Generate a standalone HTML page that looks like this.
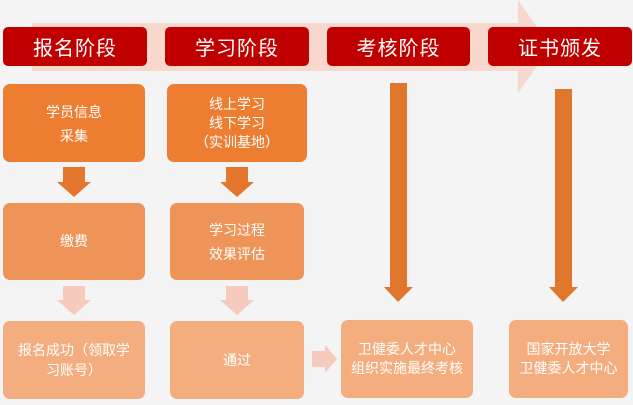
<!DOCTYPE html>
<html><head><meta charset="utf-8"><style>
body{margin:0;width:633px;height:405px;background:#f4f4f4;position:relative;overflow:hidden;font-family:"Liberation Sans","Noto Sans CJK SC",sans-serif}
.r{position:absolute;top:27px;height:39px;background:#c00000;border-radius:5px;color:#fff;font-size:20px;display:flex;align-items:center;justify-content:center;letter-spacing:1px}
.b{position:absolute;border-radius:7px;color:#fff;font-size:14px;display:flex;align-items:center;justify-content:center;text-align:center;line-height:19px}
.c1{background:#ed7d31}.c2{background:#ef9458}.c3{background:#f4ad7e}
</style></head><body>
<svg style="position:absolute;left:0;top:0" width="633" height="405">
<polygon points="32,23 518,23 518,0 551,47 518,93 518,71 32,71" fill="#f8d8cd"/>
<polygon points="63,167 85,167 85,182 91,182 74,197 57,182 63,182" fill="#e4772d"/>
<polygon points="226,167 248,167 248,182 254,182 237,197 220,182 226,182" fill="#e4772d"/>
<polygon points="63,286 85,286 85,300 91,300 74,315 57,300 63,300" fill="#f6cbbd"/>
<polygon points="226,286 248,286 248,300 254,300 237,315 220,300 226,300" fill="#f6cbbd"/>
<polygon points="390,83 407,83 407,287 413,287 398,302 384,287 390,287" fill="#e0772d"/>
<polygon points="555,89 572,89 572,287 578,287 563,302 549,287 555,287" fill="#e0772d"/>
<polygon points="312,351 325,351 325,345 337,359 325,373 325,367 312,367" fill="#f6cbbd"/>
</svg>
<div class="r" style="left:3px;width:144px">报名阶段</div>
<div class="r" style="left:165px;width:144px">学习阶段</div>
<div class="r" style="left:327px;width:143px">考核阶段</div>
<div class="r" style="left:488px;width:144px">证书颁发</div>
<div class="b c1" style="left:3px;top:84px;width:142px;height:78px;line-height:24px;padding-top:2px;box-sizing:border-box">学员信息<br>采集</div>
<div class="b c1" style="left:167px;top:84px;width:140px;height:78px">线上学习<br>线下学习<br>（实训基地）</div>
<div class="b c2" style="left:3px;top:203px;width:142px;height:77px">缴费</div>
<div class="b c2" style="left:170px;top:203px;width:134px;height:77px;line-height:24px">学习过程<br>效果评估</div>
<div class="b c3" style="left:3px;top:321px;width:142px;height:78px;line-height:20px">报名成功（领取学<br>习账号）</div>
<div class="b c3" style="left:170px;top:321px;width:134px;height:78px">通过</div>
<div class="b c3" style="left:341px;top:320px;width:132px;height:78px">卫健委人才中心<br>组织实施最终考核</div>
<div class="b c3" style="left:509px;top:320px;width:119px;height:78px">国家开放大学<br>卫健委人才中心</div>
</body></html>
